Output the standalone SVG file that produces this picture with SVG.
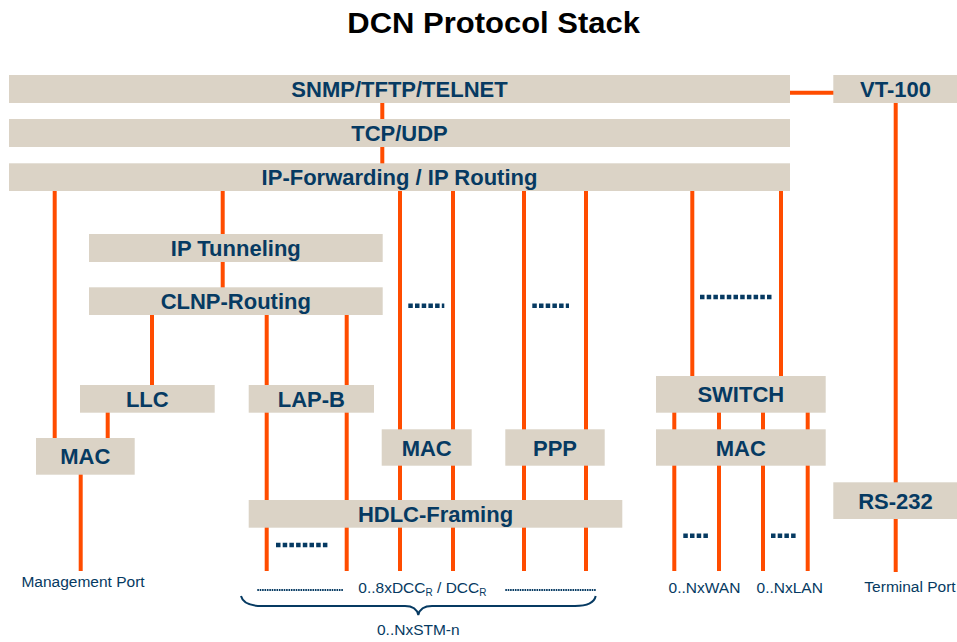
<svg xmlns="http://www.w3.org/2000/svg" width="957" height="642" viewBox="0 0 957 642">
<style>
.box{fill:#DBD3C6;}
.lbl{font-family:"Liberation Sans",Arial,sans-serif;font-weight:bold;font-size:22px;fill:#063A62;text-anchor:middle;}
.small{font-family:"Liberation Sans",Arial,sans-serif;font-size:15.5px;fill:#063A62;}
.ln{stroke:#FF4C00;stroke-width:4;fill:none;}
.dots{stroke:#063A62;stroke-width:4.5;stroke-dasharray:4.5 2.2;fill:none;}
.fine{stroke:#063A62;stroke-width:2.2;stroke-dasharray:1.6 0.8;fill:none;}
</style>
<rect width="957" height="642" fill="#ffffff"/>
<text x="347.3" y="32.7" font-family="Liberation Sans,Arial,sans-serif" font-weight="bold" font-size="29" fill="#000000" textLength="292.7" lengthAdjust="spacingAndGlyphs">DCN Protocol Stack</text>

<g id="connectors">
<path class="ln" d="M382.3 100V166 M790 92.7H835 M895.7 100V572 M54.7 188V440 M222.7 188V290 M152 312V387 M266.7 312V571 M346.7 312V571 M107.7 410V440 M80.7 472V571 M400 188V571 M453 188V571 M524 188V571 M586 188V571 M692.3 188V378 M781 188V378 M674.3 410V571 M719 410V571 M763 410V571 M807.7 410V571"/>
</g>

<g id="n-snmp"><rect class="box" x="9" y="75" width="781" height="28"/><text class="lbl" x="399.5" y="97">SNMP/TFTP/TELNET</text></g>
<g id="n-tcp"><rect class="box" x="9" y="119" width="781" height="28"/><text class="lbl" x="399.5" y="141">TCP/UDP</text></g>
<g id="n-ip"><rect class="box" x="9" y="163.3" width="781" height="27.7"/><text class="lbl" x="399.5" y="185.3">IP-Forwarding / IP Routing</text></g>
<g id="n-vt100"><rect class="box" x="833.3" y="75" width="124" height="28"/><text class="lbl" x="895.5" y="97">VT-100</text></g>
<g id="n-iptun"><rect class="box" x="89" y="234" width="293.7" height="28"/><text class="lbl" x="235.8" y="256">IP Tunneling</text></g>
<g id="n-clnp"><rect class="box" x="89" y="287.3" width="293.7" height="27.7"/><text class="lbl" x="235.8" y="309">CLNP-Routing</text></g>
<g id="n-llc"><rect class="box" x="80" y="385" width="134.7" height="27.7"/><text class="lbl" x="147.3" y="407">LLC</text></g>
<g id="n-lapb"><rect class="box" x="248.7" y="385" width="125.3" height="27.7"/><text class="lbl" x="311.3" y="407">LAP-B</text></g>
<g id="n-mac1"><rect class="box" x="36" y="438" width="98.7" height="36.7"/><text class="lbl" x="85.3" y="464.3">MAC</text></g>
<g id="n-mac2"><rect class="box" x="381.7" y="429.3" width="90" height="36.4"/><text class="lbl" x="426.7" y="455.5">MAC</text></g>
<g id="n-ppp"><rect class="box" x="505.3" y="429.3" width="99.4" height="36.4"/><text class="lbl" x="555" y="455.5">PPP</text></g>
<g id="n-switch"><rect class="box" x="656" y="376" width="169.7" height="36.7"/><text class="lbl" x="740.8" y="402.3">SWITCH</text></g>
<g id="n-mac3"><rect class="box" x="656" y="429.3" width="169.7" height="36.4"/><text class="lbl" x="740.8" y="455.5">MAC</text></g>
<g id="n-hdlc"><rect class="box" x="248.7" y="500" width="373.6" height="27.7"/><text class="lbl" x="435.5" y="522">HDLC-Framing</text></g>
<g id="n-rs232"><rect class="box" x="833.3" y="482.3" width="124" height="36.7"/><text class="lbl" x="895.5" y="508.5">RS-232</text></g>

<g id="dots">
<path class="dots" d="M408.3 305.7H444.3 M532.3 305.7H569 M700 297H772.7 M276 545H329.3 M683.3 535.7H709.3 M771 535.7H797.3"/>
<path class="fine" d="M257.3 590H343.3 M505.3 590H595.7"/>
<path d="M241 596 C243 604 252 606 262 606 L405 606 C413 606 417 609 418.3 615 C419.6 609 424 606 432 606 L575 606 C585 606 594 604 595.7 596" stroke="#063A62" stroke-width="2" fill="none"/>
</g>

<g id="labels">
<text class="small" x="83" y="587.3" text-anchor="middle">Management Port</text>
<text class="small" x="358.3" y="592.7">0..8xDCC<tspan font-size="10" dy="3.5">R</tspan><tspan dy="-3.5"> / DCC</tspan><tspan font-size="10" dy="3.5">R</tspan></text>
<text class="small" x="418.3" y="635" text-anchor="middle">0..NxSTM-n</text>
<text class="small" x="704.5" y="593.3" text-anchor="middle">0..NxWAN</text>
<text class="small" x="789.7" y="593.3" text-anchor="middle">0..NxLAN</text>
<text class="small" x="910" y="592" text-anchor="middle">Terminal Port</text>
</g>
</svg>
